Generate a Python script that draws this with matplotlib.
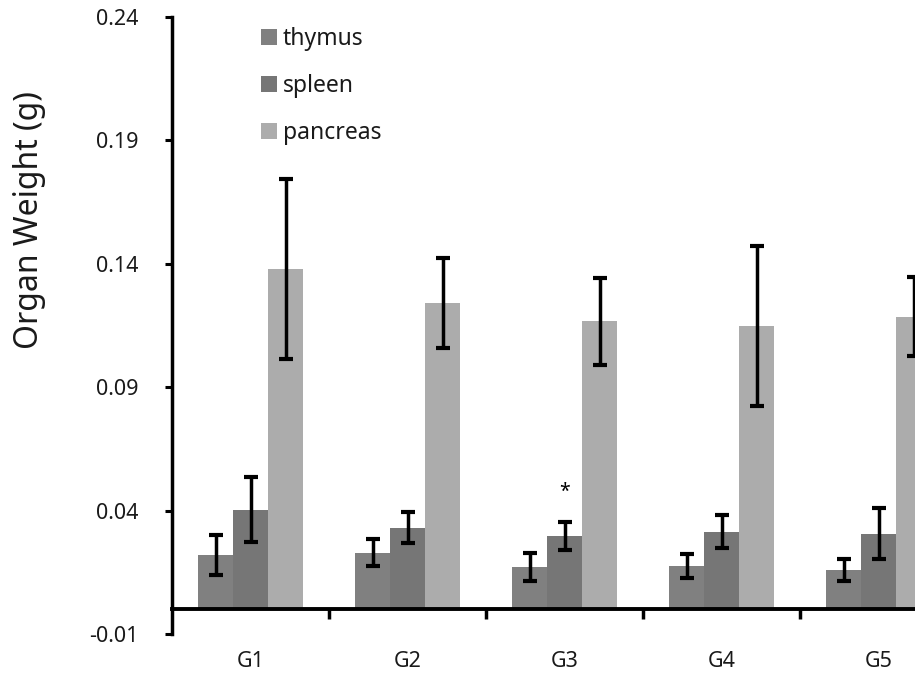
import numpy as np
import matplotlib
matplotlib.use("Agg")
import matplotlib.pyplot as plt
from matplotlib.patches import Patch

plt.rcParams['font.family'] = ['Noto Sans', 'DejaVu Sans']

# 그룹별 장기 무게 (평균, 표준편차)
groups = ['G1', 'G2', 'G3', 'G4', 'G5']
organs = ['thymus', 'spleen', 'pancreas']
thymus = [0.0221, 0.0229, 0.0172, 0.0176, 0.0160]
thymus_err = [0.0081, 0.0055, 0.0057, 0.0048, 0.0045]
spleen = [0.0403, 0.0330, 0.0298, 0.0314, 0.0306]
spleen_err = [0.0132, 0.0063, 0.0057, 0.0067, 0.0103]
pancreas = [0.1379, 0.1241, 0.1168, 0.1148, 0.1185]
pancreas_err = [0.0365, 0.0182, 0.0176, 0.0326, 0.0160]
star_groups = ['G3']  # spleen 유의차 표시

colors = ['#808080', '#767676', '#acacac']
text_color = '#1a1a1a'

fig = plt.figure(figsize=(9.15, 6.74), dpi=100)
ax = fig.add_axes([0.188, 0.0593, 0.858, 0.9154])

x = np.arange(len(groups))
width = 0.223
series = [(thymus, thymus_err), (spleen, spleen_err), (pancreas, pancreas_err)]
for i, (vals, errs) in enumerate(series):
    ax.bar(x + (i - 1) * width, vals, width, color=colors[i], zorder=2)
    ax.errorbar(x + (i - 1) * width, vals, yerr=errs, fmt='none', ecolor='black',
                elinewidth=2.5, capsize=5, capthick=3, zorder=3)

for g in star_groups:
    k = groups.index(g)
    ax.annotate('*', (x[k], spleen[k] + spleen_err[k]), xytext=(0, 14),
                textcoords='offset points', ha='center', va='bottom',
                fontsize=14, color='black')

ax.set_xlim(-0.5, len(groups) - 0.5)
ax.set_ylim(-0.01, 0.24)
ax.set_yticks([-0.01, 0.04, 0.09, 0.14, 0.19, 0.24])
ax.set_yticklabels(['-0.01', '0.04', '0.09', '0.14', '0.19', '0.24'])

ax.set_xticks(x[:-1] + 0.5)
ax.set_xticklabels([])
ax.set_xticks(x, minor=True)
ax.set_xticklabels(groups, minor=True)

for side in ['top', 'right']:
    ax.spines[side].set_visible(False)
ax.spines['bottom'].set_position(('data', 0))
ax.spines['bottom'].set_linewidth(2.8)
ax.spines['left'].set_linewidth(2.5)
ax.spines['left'].set_bounds(-0.01, 0.24)

ax.tick_params(axis='y', direction='out', length=5, width=2.2, pad=19,
               labelsize=15.5, labelcolor=text_color)
ax.tick_params(axis='x', which='major', direction='out', length=7, width=2.5)
ax.tick_params(axis='x', which='minor', length=0, pad=30,
               labelsize=15.5, labelcolor=text_color)

fig.text(0.032, 0.674, 'Organ Weight (g)', rotation=90, ha='center', va='center',
         fontsize=23, color=text_color)

handles = [Patch(facecolor=c, edgecolor='none') for c in colors]
ax.legend(handles, organs, loc='upper left', bbox_to_anchor=(261 / 915, 1 - 27 / 674),
          bbox_transform=fig.transFigure, frameon=False, fontsize=16.5,
          handlelength=0.7, handleheight=0.7, handletextpad=0.25,
          labelspacing=1.0, borderpad=0, borderaxespad=0, labelcolor=text_color)

fig.savefig('out.png', dpi=100)
